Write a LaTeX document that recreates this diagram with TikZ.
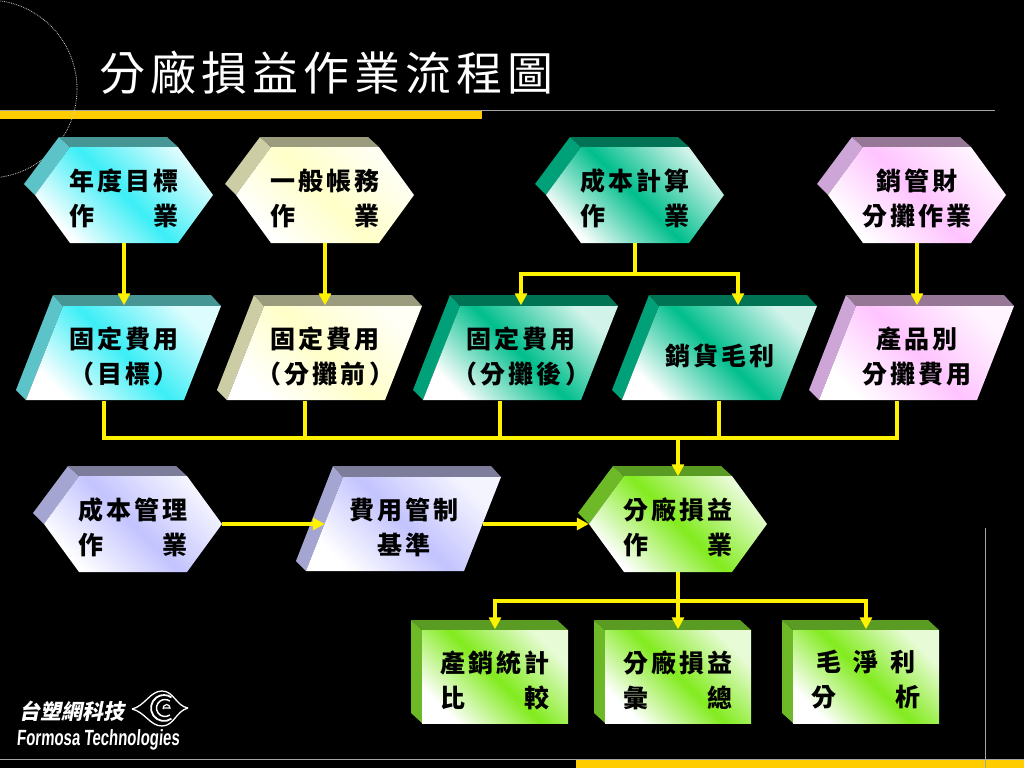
\documentclass[tikz,border=0pt]{standalone}
\usepackage{fontspec}
\usetikzlibrary{arrows.meta}
\newfontfamily\boxfont[LetterSpace=13]{Noto Sans CJK TC}
\newfontfamily\titlefont[LetterSpace=11]{Noto Sans CJK TC}
\newfontfamily\logocjk[FakeSlant=0.2]{Noto Sans CJK TC}
\newfontfamily\logolatin[FakeStretch=0.68,FakeSlant=0.08]{Liberation Sans}
\definecolor{aquaf}{RGB}{60,238,246}
\definecolor{aquat}{RGB}{70,150,150}
\definecolor{aquas}{RGB}{92,195,200}
\definecolor{creamf}{RGB}{255,255,200}
\definecolor{creamt}{RGB}{155,155,125}
\definecolor{creams}{RGB}{205,205,165}
\definecolor{tealf}{RGB}{0,190,140}
\definecolor{tealt}{RGB}{0,115,85}
\definecolor{teals}{RGB}{0,160,120}
\definecolor{pinkf}{RGB}{255,195,255}
\definecolor{pinkt}{RGB}{150,120,150}
\definecolor{pinks}{RGB}{205,165,215}
\definecolor{lilacf}{RGB}{195,195,255}
\definecolor{lilact}{RGB}{125,125,155}
\definecolor{lilacs}{RGB}{165,165,210}
\definecolor{limef}{RGB}{130,235,30}
\definecolor{limet}{RGB}{90,155,35}
\definecolor{limes}{RGB}{110,185,40}
\definecolor{barcolor}{RGB}{255,204,0}
\tikzset{
  boxarea/.style={inner sep=0pt,minimum height=95pt},
  boxtext/.style={inner sep=0pt,align=center,text=black,
    font=\boxfont\bfseries\fontsize{25}{35}\selectfont},
  facefill/.style={top color=#1f!18!white,bottom color=white,middle color=#1f,shading angle=-45},
  flowline/.style={draw=yellow,line width=4pt},
  flowarrow/.style={flowline,-{Triangle[length=12pt,width=12pt]}},
  rule/.style={draw=gray!70,line width=0.8pt},
}
\newcommand{\hexnode}[4]{
  \begin{scope}[shift={(#2)}]
    \fill[#3s] (-100,-11)--(-65,-58)--(-54,-48)--(-89,0)--cycle;
    \fill[#3t] (-65,-58)--(43,-58)--(54,-48)--(-54,-48)--cycle;
    \shade[facefill=#3] (-89,0)--(-54,-48)--(54,-48)--(89,0)--(54,48)--(-54,48)--cycle;
    \node[boxarea,minimum width=178pt] (#1) at (0,0) {};
    \node[boxtext] (#1text) at (0,3) {#4};
  \end{scope}
}
\newcommand{\paranode}[4]{
  \begin{scope}[shift={(#2)}]
    \fill[#3s] (-71,-58)--(-61,-47)--(-98,47)--(-108,37)--cycle;
    \fill[#3t] (-71,-58)--(87,-58)--(97,-47)--(-61,-47)--cycle;
    \shade[facefill=#3] (-61,-47)--(97,-47)--(60,47)--(-98,47)--cycle;
    \node[boxarea,minimum width=158pt] (#1) at (0,0) {};
    \node[boxtext] (#1text) at (0,3) {#4};
  \end{scope}
}
\newcommand{\cubenode}[4]{
  \begin{scope}[shift={(#2)}]
    \fill[#3s] (-84,-57)--(-73,-47)--(-73,46)--(-84,36)--cycle;
    \fill[#3t] (-84,-57)--(62,-57)--(73,-47)--(-73,-47)--cycle;
    \shade[facefill=#3] (-73,-47)--(73,-47)--(73,46)--(-73,46)--cycle;
    \node[boxarea,minimum width=146pt] (#1) at (0,0) {};
    \node[boxtext] (#1text) at (0,3) {#4};
  \end{scope}
}
\begin{document}
\begin{tikzpicture}[x=1pt,y=-1pt,line join=miter]
  \fill[black] (0,0) rectangle (1024,768);
  \useasboundingbox (0,0) rectangle (1024,768);
  \draw[rule] (0,110)--(995,110);
  \fill[barcolor] (0,111) rectangle (482,119);
  \draw[white!80!black,line width=0.8pt,densely dotted] (-12,89) circle (89);
  \draw[rule] (0,759.5)--(1024,759.5);
  \fill[barcolor] (576,760) rectangle (1024,768);
  \draw[rule] (985,528)--(985,768);
  \node[anchor=west,inner sep=0pt,text=white,font=\titlefont\fontsize{46}{46}\selectfont] (title) at (99,73) {分廠損益作業流程圖};

  \hexnode{yearplan}{124,195}{aqua}{年度目標\\作　　業}
  \hexnode{ledger}{325,195}{cream}{一般帳務\\作　　業}
  \hexnode{costcalc}{635,195}{teal}{成本計算\\作　　業}
  \hexnode{salesfin}{917,195}{pink}{銷管財\\分攤作業}

  \paranode{fixtarget}{124,353}{aqua}{固定費用\\（目標）}
  \paranode{fixbefore}{325,353}{cream}{固定費用\\（分攤前）}
  \paranode{fixafter}{521,353}{teal}{固定費用\\（分攤後）}
  \paranode{grossmargin}{720,353}{teal}{銷貨毛利}
  \paranode{prodshare}{917,353}{pink}{產品別\\分攤費用}

  \hexnode{costmgmt}{133,524}{lilac}{成本管理\\作　　業}
  \paranode{feecontrol}{404,524}{lilac}{費用管制\\基準}
  \hexnode{plantpl}{678,524}{lime}{分廠損益\\作　　業}

  \cubenode{salesstat}{495,677}{lime}{產銷統計\\比　　較}
  \cubenode{plantsum}{678,677}{lime}{分廠損益\\彙　　總}
  \cubenode{netprofit}{866,677}{lime}{毛\hspace{12pt}淨\hspace{12pt}利\\分　　析}

  \coordinate (costbus) at (635,274);
  \coordinate (fixbus) at (678,438);
  \coordinate (plantbus) at (678,601);

  \draw[flowarrow] (yearplan.south)--(fixtarget.north);
  \draw[flowarrow] (ledger.south)--(fixbefore.north);
  \draw[flowarrow] (salesfin.south)--(prodshare.north);
  \draw[flowline] (costcalc.south)--(costbus);
  \draw[flowarrow] (costbus)-|(fixafter.north);
  \draw[flowarrow] (costbus)-|([xshift=18pt]grossmargin.north);

  \draw[flowline] ([xshift=-20pt]fixtarget.south)|-(fixbus);
  \draw[flowline] ([xshift=-20pt]fixbefore.south)|-(fixbus);
  \draw[flowline] ([xshift=-21pt]fixafter.south)|-(fixbus);
  \draw[flowline] ([xshift=-1pt]grossmargin.south)|-(fixbus);
  \draw[flowline] ([xshift=-20pt]prodshare.south)|-(fixbus);
  \draw[flowarrow] (fixbus)--(plantpl.north);

  \draw[flowarrow] (costmgmt.east)--(feecontrol.west);
  \draw[flowarrow] (feecontrol.east)--(plantpl.west);
  \draw[flowarrow] (plantpl.south)--(plantsum.north);
  \draw[flowarrow] (plantbus)-|(salesstat.north);
  \draw[flowarrow] (plantbus)-|(netprofit.north);

  \node[inner sep=0pt,text=white,font=\logocjk\bfseries\fontsize{21}{21}\selectfont] (logocn) at (72,711) {台塑網科技};
  \node[inner sep=0pt,text=white,font=\logolatin\bfseries\fontsize{22}{22}\selectfont] (logoen) at (98,740) {Formosa Technologies};
  \draw[white,line width=1.3pt] (132,709) .. controls (145,706) and (150,691) .. (162,691) .. controls (174,691) and (176,706) .. (188,708);
  \draw[white,line width=1.3pt] (132,709) .. controls (145,712) and (150,726) .. (162,726) .. controls (174,726) and (176,711) .. (188,708);
  \draw[white,line width=1.8pt] (164,708) ++(55:13) arc[start angle=55,end angle=305,radius=13];
  \draw[white,line width=1.5pt] (165,708) ++(55:8.5) arc[start angle=55,end angle=305,radius=8.5];
  \draw[white,line width=1.2pt] (163,708)--(170,708) arc[start angle=0,end angle=-200,radius=3.5];
\end{tikzpicture}
\end{document}
